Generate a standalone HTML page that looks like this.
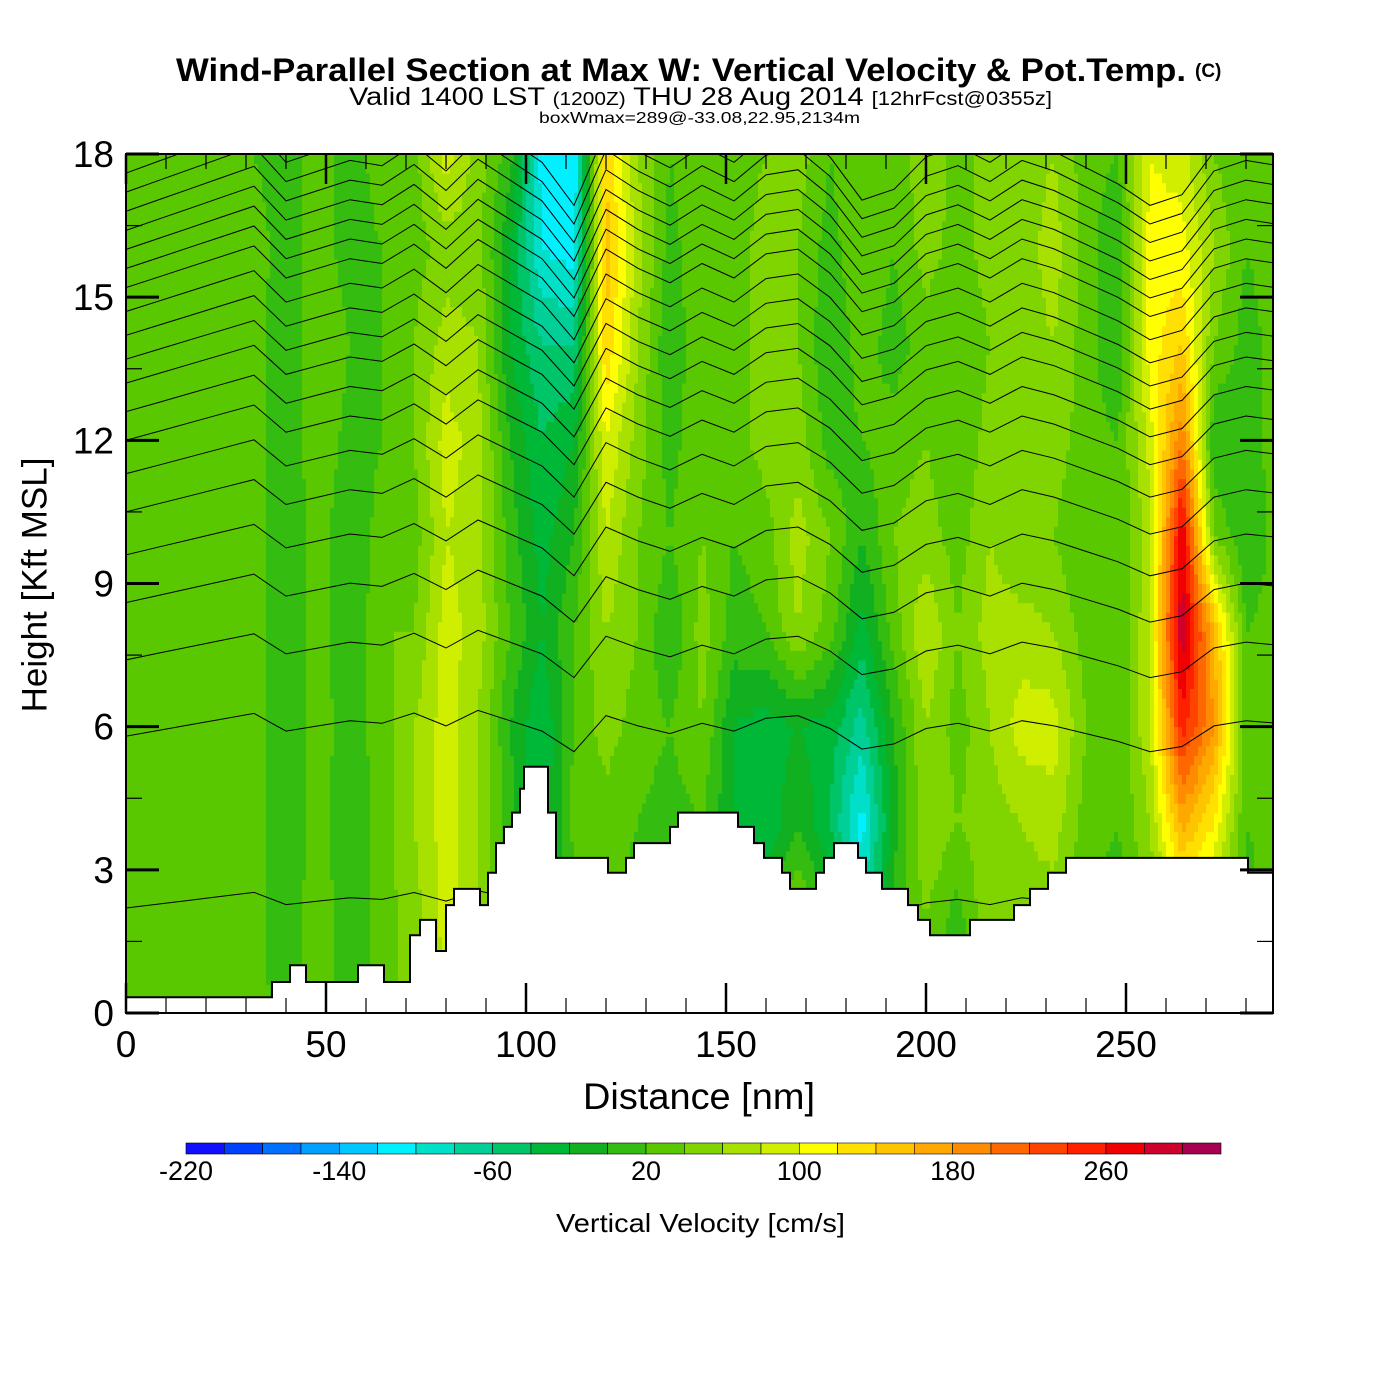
<!DOCTYPE html>
<html><head><meta charset="utf-8"><style>
html,body{margin:0;padding:0;background:#fff;}
svg{display:block;font-family:"Liberation Sans",sans-serif;}
</style></head><body>
<svg id="chart" width="1400" height="1400" viewBox="0 0 1400 1400">
<text x="176" y="81" font-size="32" font-weight="bold" textLength="1010" lengthAdjust="spacingAndGlyphs">Wind-Parallel Section at Max W: Vertical Velocity &amp; Pot.Temp.</text>
<text x="1195" y="77" font-size="19" font-weight="bold">(C)</text>
<text x="349" y="105" font-size="25" textLength="703" lengthAdjust="spacingAndGlyphs">Valid 1400 LST <tspan font-size="18">(1200Z)</tspan> THU 28 Aug 2014 <tspan font-size="19">[12hrFcst@0355z]</tspan></text>
<text x="539" y="123" font-size="16" textLength="321" lengthAdjust="spacingAndGlyphs">boxWmax=289@-33.08,22.95,2134m</text>
<defs><clipPath id="plotclip"><rect x="126" y="154" width="1147" height="859"/></clipPath></defs>
<g id="field" clip-path="url(#plotclip)"></g>
<g id="contours" clip-path="url(#plotclip)"></g>
<g id="terrain" clip-path="url(#plotclip)"></g>
<g id="axes"></g>
<rect x="126" y="154" width="1147" height="859" fill="none" stroke="#000" stroke-width="2"/>
<text x="37" y="585" transform="rotate(-90 37 585)" text-anchor="middle" dominant-baseline="middle" font-size="35">Height [Kft MSL]</text>
<text x="583" y="1109" font-size="37" textLength="232" lengthAdjust="spacingAndGlyphs">Distance [nm]</text>
<g id="colorbar"></g>
<text x="556" y="1232" font-size="26" textLength="289" lengthAdjust="spacingAndGlyphs">Vertical Velocity [cm/s]</text>
</svg>
<script>
const distances=[0,8,16,24,32,40,48,56,64,72,80,88,96,104,112,120,128,136,144,152,160,168,176,184,192,200,208,216,224,232,240,248,256,264,272,280,288];
const heights=[0,2,4,6,8,10,12,14,16,18];
// vertical velocity (cm/s) per distance column, at each height level
const wByDistance=[
[30,30,30,30,30,30,30,30,20,20],
[30,30,30,30,30,30,30,30,30,20],
[30,30,30,30,30,30,30,30,30,30],
[30,30,30,30,30,30,30,30,30,30],
[30,30,30,30,30,30,30,30,30,20],
[10,0,0,0,0,0,0,0,10,10],
[30,40,30,30,30,30,40,40,30,30],
[10,0,0,10,0,0,10,20,10,10],
[30,30,30,30,40,30,20,20,20,30],
[50,50,60,60,40,30,40,40,30,30],
[70,90,90,90,90,80,90,70,50,90],
[40,60,60,60,70,70,70,60,50,50],
[30,10,10,0,20,10,0,-20,-20,10],
[0,-40,-40,-40,-20,-30,-40,-60,-100,-110],
[10,0,30,20,20,0,-20,-60,-110,-120],
[30,30,30,50,60,80,100,140,150,140],
[30,10,20,30,40,40,50,60,70,60],
[30,20,10,20,0,20,10,0,10,20],
[30,30,20,40,50,40,40,40,40,40],
[10,0,-20,-20,10,20,30,20,30,30],
[20,0,-40,-30,20,30,50,60,50,40],
[30,50,0,-20,60,70,50,40,40,50],
[10,0,-40,-30,30,40,10,0,10,20],
[0,-80,-110,-70,-30,0,20,30,40,40],
[20,10,-10,0,30,40,30,10,20,20],
[40,40,60,60,80,50,40,30,50,60],
[10,10,40,30,40,30,20,20,30,30],
[40,60,50,60,70,60,50,40,50,50],
[40,50,60,90,70,40,40,50,50,50],
[50,50,70,90,60,40,50,60,70,60],
[20,20,30,40,30,20,30,30,30,30],
[20,10,20,20,20,20,20,0,0,20],
[40,40,60,80,80,70,90,110,110,100],
[40,80,170,250,300,280,200,140,110,90],
[30,60,120,180,160,40,0,40,60,40],
[20,10,20,30,20,0,10,10,20,20],
[30,30,30,30,30,30,30,30,30,30]];
// isentrope displacement (kft) per distance column
const thetaDisp=[0,0.1,0.2,0.3,0.4,0.2,0.4,0.6,0.5,0.9,0.4,1.0,0.6,0.2,-0.6,0.8,0.4,0.1,0.5,0.2,0.7,0.8,0.3,-0.5,-0.3,0.3,0.5,0.2,0.6,0.4,0.1,-0.2,-0.6,-0.4,0.4,0.6,0.5];
const thetaBase=[2.2,5.8,7.4,8.6,9.6,10.5,11.3,12.0,12.6,13.2,13.7,14.2,14.7,15.2,15.6,16.0,16.4,16.8,17.2,17.6];
// terrain steps: start distance (nm) and height (kft)
const terrainStart=[0,36.5,41,45,58,64.5,71,73.5,77.5,80,82,88.5,90.5,92.5,94.5,96.5,98.5,99.5,105.5,107.5,120.5,125,127,136,138,153,157,159.5,164,166,172.5,174.5,177,183,185,189,195.5,198,201,211,222,226,230.5,235,280.5];
const terrainH=[0.33,0.65,1.0,0.65,1.0,0.65,1.63,1.95,1.3,2.26,2.6,2.26,2.94,3.56,3.9,4.2,4.7,5.16,4.2,3.25,2.94,3.25,3.56,3.9,4.2,3.9,3.56,3.25,2.94,2.6,2.94,3.25,3.56,3.25,2.94,2.6,2.26,1.95,1.63,1.95,2.26,2.6,2.94,3.25,2.94];
const cbTicks=[-220,-140,-60,20,100,180,260];
const levelColors=['#1010ff','#0040ff','#0070ff','#00a0ff','#00c8ff','#00f0ff','#00e0c8','#00d098','#00c468','#00b838','#10b020','#34bc10','#5ac800','#80d400','#a8e000','#d0ee00','#ffff00','#ffe000','#ffc400','#ffa800','#ff8c00','#ff6800','#ff4400','#ff2000','#f00000','#d0002c','#a80050'];
const NS='http://www.w3.org/2000/svg';
const X0=126,X1=1273,Y0=1013,Y1=154,DMAX=286.75,HMAX=18;
function xs(d){return X0+(X1-X0)*d/DMAX;}
function ys(h){return Y0-(Y0-Y1)*h/HMAX;}
function interp(grid,v){
  if(v<=grid[0])return [0,0,0];
  for(let i=0;i<grid.length-1;i++){if(v<=grid[i+1])return [i,i+1,(v-grid[i])/(grid[i+1]-grid[i])];}
  return [grid.length-1,grid.length-1,0];
}
function wAt(d,h){
  const [i0,i1,tx]=interp(distances,d),[j0,j1,ty]=interp(heights,h);
  const a=wByDistance[i0][j0]*(1-ty)+wByDistance[i0][j1]*ty;
  const b=wByDistance[i1][j0]*(1-ty)+wByDistance[i1][j1]*ty;
  return a*(1-tx)+b*tx;
}
function lev(v){let k=Math.floor((v+220)/20);return Math.max(0,Math.min(26,k));}
const field=document.getElementById('field');
const dStep=1,hStep=0.2;
for(let h=0;h<HMAX;h+=hStep){
  let runStart=0,runLev=null;
  const y=ys(h+hStep),hh=ys(h)-ys(h+hStep);
  for(let d=0;d<=DMAX+dStep;d+=dStep){
    const L=d<=DMAX?lev(wAt(d+dStep/2,h+hStep/2)):-1;
    if(runLev===null){runLev=L;runStart=d;continue;}
    if(L!==runLev){
      const r=document.createElementNS(NS,'rect');
      r.setAttribute('x',xs(runStart).toFixed(1));r.setAttribute('y',y.toFixed(1));
      r.setAttribute('width',(xs(d)-xs(runStart)+0.6).toFixed(1));r.setAttribute('height',(hh+0.6).toFixed(1));
      r.setAttribute('fill',levelColors[runLev]);
      
      
      field.appendChild(r);
      runLev=L;runStart=d;
    }
  }
}
const cont=document.getElementById('contours');
thetaBase.forEach(function(b){
  let pts=[];
  for(let i=0;i<distances.length;i++){
    let h=b+thetaDisp[i]*(0.25+b/20);
    if(distances[i]<=36)h+=(distances[i]/36)*(0.15+b/40);
    pts.push(xs(distances[i]).toFixed(1)+','+ys(h).toFixed(1));
  }
  const p=document.createElementNS(NS,'polyline');
  p.setAttribute('points',pts.join(' '));p.setAttribute('fill','none');
  p.setAttribute('stroke','#000');p.setAttribute('stroke-width','1');
  
  
  cont.appendChild(p);
});
const terr=document.getElementById('terrain');
let tp=[xs(0)+','+ys(0)];
for(let i=0;i<terrainStart.length;i++){
  const xa=xs(terrainStart[i]),xb=i<terrainStart.length-1?xs(terrainStart[i+1]):X1+2;
  tp.push(xa.toFixed(1)+','+ys(terrainH[i]).toFixed(1));tp.push(xb.toFixed(1)+','+ys(terrainH[i]).toFixed(1));
}
tp.push((X1+2)+','+(Y0+2));tp.push(X0+','+(Y0+2));
const tpoly=document.createElementNS(NS,'polygon');
tpoly.setAttribute('points',tp.join(' '));tpoly.setAttribute('fill','#fff');
tpoly.setAttribute('stroke','#000');tpoly.setAttribute('stroke-width','2');


terr.appendChild(tpoly);
const axes=document.getElementById('axes');
function line(x1,y1,x2,y2,w,name){const l=document.createElementNS(NS,'line');l.setAttribute('x1',x1);l.setAttribute('y1',y1);l.setAttribute('x2',x2);l.setAttribute('y2',y2);l.setAttribute('stroke','#000');l.setAttribute('stroke-width',w);


axes.appendChild(l);}
function text(x,y,s,size,anchor,name){const t=document.createElementNS(NS,'text');t.setAttribute('x',x);t.setAttribute('y',y);t.setAttribute('font-size',size);t.setAttribute('text-anchor',anchor);t.textContent=s;


axes.appendChild(t);}
for(let d=0;d<=280;d+=10){
  const x=xs(d),maj=d%50===0,len=maj?30:15;
  line(x,Y0,x,Y0-len,maj?2.5:1.2,'x-tick');line(x,Y1,x,Y1+len,maj?2.5:1.2,'x-tick-top');
  if(maj)text(x,1057,String(d),37,'middle','x-tick-label');
}
for(let h=0;h<=18;h+=1.5){
  const y=ys(h),maj=h%3===0,len=maj?33:16;
  line(X0,y,X0+len,y,maj?3:1.2,'y-tick');line(X1,y,X1-len,y,maj?3:1.2,'y-tick-right');
  if(maj)text(114,y+13,String(h),37,'end','y-tick-label');
}
const cb=document.getElementById('colorbar');
const cbx0=186,cbw=1035/27;
levelColors.forEach(function(c,i){
  const r=document.createElementNS(NS,'rect');
  r.setAttribute('x',(cbx0+i*cbw).toFixed(1));r.setAttribute('y',1143);r.setAttribute('width',cbw.toFixed(1));r.setAttribute('height',11);
  r.setAttribute('fill',c);r.setAttribute('stroke','#000');r.setAttribute('stroke-width','0.6');
  
  
  cb.appendChild(r);
});
cbTicks.forEach(function(v){
  const t=document.createElementNS(NS,'text');
  t.setAttribute('x',(cbx0+(v+220)/20*cbw).toFixed(1));t.setAttribute('y',1180);t.setAttribute('font-size',27);t.setAttribute('text-anchor','middle');
  t.textContent=String(v);
  
  
  cb.appendChild(t);
});
</script>
</body></html>
